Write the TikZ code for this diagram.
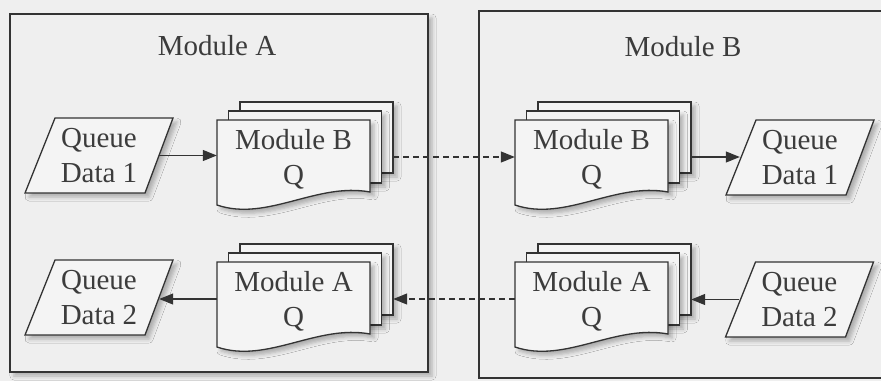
\documentclass[tikz,border=0pt]{standalone}
\usepackage{fontspec}
\setmainfont{Liberation Serif}
\usetikzlibrary{arrows.meta,shadows.blur}

\definecolor{paper}{HTML}{EFEFEF}
\definecolor{sheetfill}{HTML}{F4F4F4}
\definecolor{ink}{HTML}{333333}
\definecolor{txt}{HTML}{3C3C3C}

\tikzset{
  softshadow/.style={blur shadow={shadow xshift=4pt,shadow yshift=-4pt,shadow blur radius=4pt,shadow opacity=28}},
  bigtext/.style={font=\fontsize{29}{35}\selectfont,text=txt},
  modbox/.style={draw=ink,line width=1.6pt,fill=paper,inner sep=0pt},
  title/.style={bigtext,inner sep=0pt},
  sheet/.style={draw=ink,line width=1.3pt,fill=sheetfill,softshadow},
  qlabel/.style={bigtext,align=center,inner sep=0pt,minimum width=120pt,minimum height=75pt},
  stackspan/.style={draw=none,inner sep=0pt,minimum width=176pt,minimum height=74pt},
  doclabel/.style={bigtext,align=center,inner sep=0pt},
  flow/.style={draw=ink,line width=1.2pt,-{Triangle[length=14pt,width=11pt]}},
  link/.style={flow,dash pattern=on 6pt off 4pt},
}

% parallelogram data store: #1,#2 = centre, #3 = name, #4 = label
\newcommand{\queuebox}[4]{%
  \draw[sheet] (#1-44,#2-37.5) -- (#1+74,#2-37.5) -- (#1+46,#2+37.5)
    -- (#1-74,#2+37.5) -- cycle;
  \node[qlabel] (#3) at (#1,#2) {#4};}

% stack of three sheets: #1,#2 = top-left corner of the front sheet, #3 = name, #4 = label
\newcommand{\docstack}[4]{%
  \begin{scope}[shift={(#1,#2)}]
    \draw[sheet] (23,-18) rectangle (176,53);
    \draw[sheet] (11.5,-9) rectangle (164.5,63);
    \draw[sheet] (0,0) -- (153,0) -- (153,72)
      .. controls (100,62) and (50,102) .. (0,85) -- cycle;
    \node[stackspan] (#3) at (88,37) {};
    \node[doclabel] (#3-label) at (76.5,39) {#4};
  \end{scope}}

\begin{document}
\begin{tikzpicture}[x=1pt,y=-1pt]
  \fill[paper] (0,0) rectangle (881,381);
  \useasboundingbox (0,0) rectangle (881,381);

  % the two modules
  \node[modbox,softshadow,minimum width=418pt,minimum height=358pt] (modA) at (219,193) {};
  \node[modbox,minimum width=421pt,minimum height=367pt] (modB) at (689.5,194.5) {};
  \node[title] (modA-title) at (217,45.5) {Module A};
  \node[title] (modB-title) at (683,47) {Module B};

  % queues and document stacks
  \queuebox{99}{155.5}{qdL1}{Queue\\Data 1}
  \queuebox{99}{297.5}{qdL2}{Queue\\Data 2}
  \queuebox{800}{157.5}{qdR1}{Queue\\Data 1}
  \queuebox{799.5}{299.5}{qdR2}{Queue\\Data 2}

  \docstack{217}{120}{sL1}{Module B\\Q}
  \docstack{217}{262}{sL2}{Module A\\Q}
  \docstack{515}{120}{sR1}{Module B\\Q}
  \docstack{515}{262}{sR2}{Module A\\Q}

  % connectors
  \draw[flow] (qdL1.east) -- (qdL1.east -| sL1.west);
  \draw[link] (sL1.east) -- (sR1.west);
  \draw[flow] (sR1.east) -- (sR1.east -| qdR1.west);

  \draw[flow] (qdR2.west) -- (qdR2.west -| sR2.east);
  \draw[link] (sR2.west) -- (sL2.east);
  \draw[flow] (sL2.west) -- (sL2.west -| qdL2.east);
\end{tikzpicture}
\end{document}
